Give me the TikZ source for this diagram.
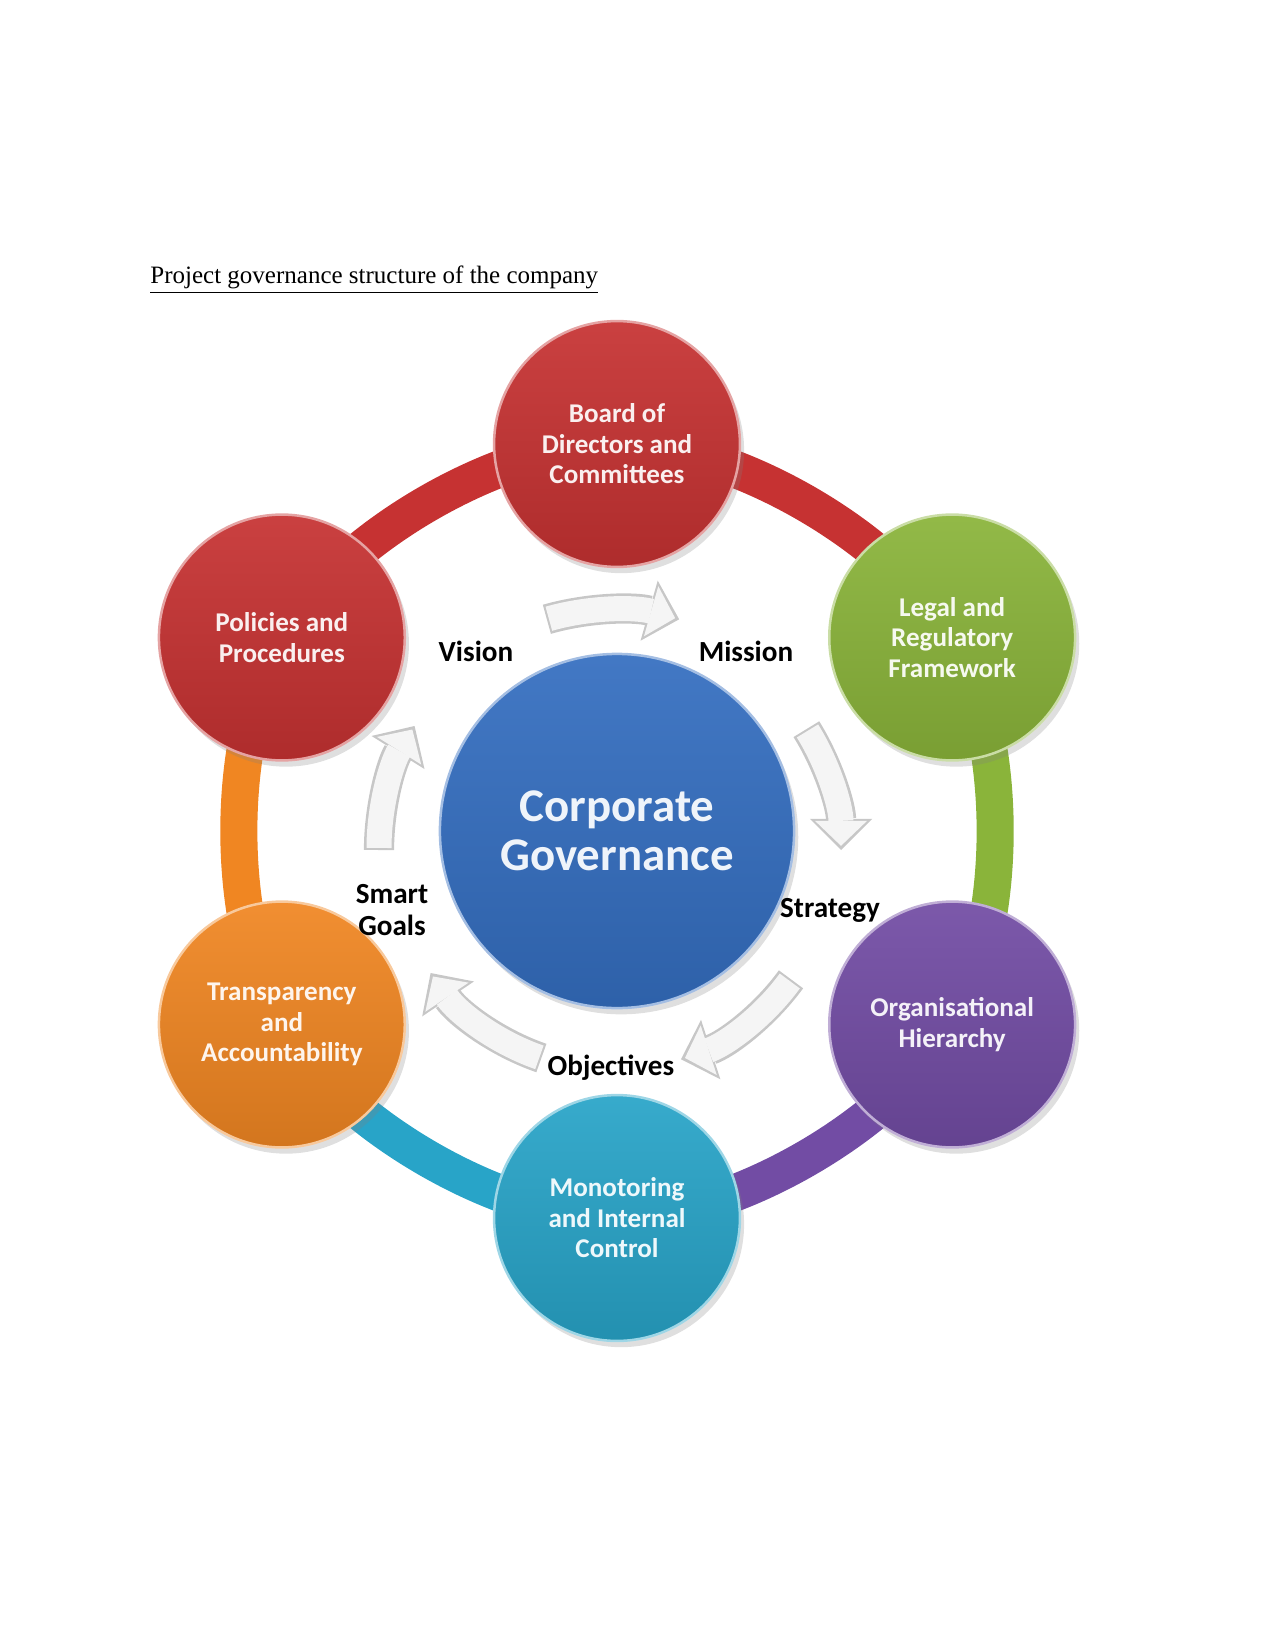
\documentclass[tikz,border=0pt]{standalone}
\usepackage{fontspec}
\setmainfont{Liberation Serif}
\newfontfamily\carlito{Carlito}
\usepackage{tikz}
\usetikzlibrary{arrows.meta,positioning,calc,shadows}
\definecolor{rojo}{RGB}{198,50,50}
\definecolor{verde}{RGB}{138,180,58}
\definecolor{lila}{RGB}{114,76,164}
\definecolor{celeste}{RGB}{40,164,200}
\definecolor{naranja}{RGB}{240,134,34}
\definecolor{azulc}{RGB}{52,110,192}
\pgfdeclarelayer{fondo}
\pgfsetlayers{fondo,main}

\tikzset{
  burbuja/.style={circle,minimum size=118pt,inner sep=0pt,align=center,
    top color=#1!93!white,bottom color=#1!88!black,draw=#1!45!white,line width=1.2pt,
    text=white!92!#1,font=\carlito\bfseries\fontsize{13}{14.6}\selectfont,
    drop shadow={opacity=0.25,shadow xshift=2pt,shadow yshift=-3pt}},
  anillo/.style={draw=#1,line width=17.8pt},
  etiqueta/.style={inner sep=1pt,align=center,font=\carlito\bfseries\fontsize{14}{15.6}\selectfont},
  flecha/.style={preaction={draw=black!22,line width=14.5pt,
      -{Triangle[width=30pt,length=15pt,line width=0pt]},shorten <=0pt,shorten >=0pt},
    draw=white!96!black,line width=12pt,
    -{Triangle[width=25pt,length=12pt,line width=0pt]},shorten <=1pt,shorten >=2pt}
}

\begin{document}
\begin{tikzpicture}[x=0.48pt,y=0.48pt]
\useasboundingbox (0,0) rectangle (1275,-1650);

\node[anchor=base west,inner sep=0pt,font=\fontsize{12}{14}\selectfont] (titulo) at (150,-284)
{\underline{Project governance structure of the company}};

% centro
\node[burbuja=azulc,minimum size=170pt,font=\carlito\bfseries\fontsize{22.5}{23.8}\selectfont] (hub) at (617,-831)
{Corporate\\Governance};

% circulos exteriores
\node[burbuja=rojo] (board) at ([shift={(90:387)}]hub.center) {Board of\\Directors and\\Committees};
\node[burbuja=verde] (legal) at ([shift={(30:387)}]hub.center) {Legal and\\Regulatory\\Framework};
\node[burbuja=lila] (org) at ([shift={(-30:387)}]hub.center) {Organisational\\Hierarchy};
\node[burbuja=celeste] (monitor) at ([shift={(-90:387)}]hub.center) {Monotoring\\and Internal\\Control};
\node[burbuja=naranja] (transp) at ([shift={(-150:387)}]hub.center) {Transparency\\and\\Accountability};
\node[burbuja=rojo] (policies) at ([shift={(150:387)}]hub.center) {Policies and\\Procedures};

% anillo
\begin{pgfonlayer}{fondo}
\draw[anillo=rojo] (board.center) to[bend left=30,looseness=0.76] (legal.center);
\draw[anillo=verde] (legal.center) to[bend left=30,looseness=0.76] (org.center);
\draw[anillo=lila] (org.center) to[bend left=30,looseness=0.76] (monitor.center);
\draw[anillo=celeste] (monitor.center) to[bend left=30,looseness=0.76] (transp.center);
\draw[anillo=naranja] (transp.center) to[bend left=30,looseness=0.76] (policies.center);
\draw[anillo=rojo] (policies.center) to[bend left=30,looseness=0.76] (board.center);
\end{pgfonlayer}

% etiquetas del ciclo
\node[etiqueta] (vision) at (476,-651) {Vision};
\node[etiqueta] (mission) at (746,-651) {Mission};
\node[etiqueta] (strategy) at (830,-910) {Strategy};
\node[etiqueta] (objectives) at (611,-1068) {Objectives};
\node[etiqueta] (goals) at (392,-910) {Smart\\Goals};

% flechas del ciclo
\coordinate (ciclo) at (613,-850);
\draw[flecha] ([shift={(106:240)}]ciclo) arc[start angle=106,end angle=74,radius=240];
\draw[flecha] ([shift={(32:228)}]ciclo) arc[start angle=32,end angle=0,radius=228];
\draw[flecha] ([shift={(-36:220)}]ciclo) arc[start angle=-36,end angle=-72,radius=220];
\draw[flecha] ([shift={(-109:220)}]ciclo) arc[start angle=-109,end angle=-146,radius=220];
\draw[flecha] ([shift={(180:234)}]ciclo) arc[start angle=180,end angle=148,radius=234];
\end{tikzpicture}
\end{document}
